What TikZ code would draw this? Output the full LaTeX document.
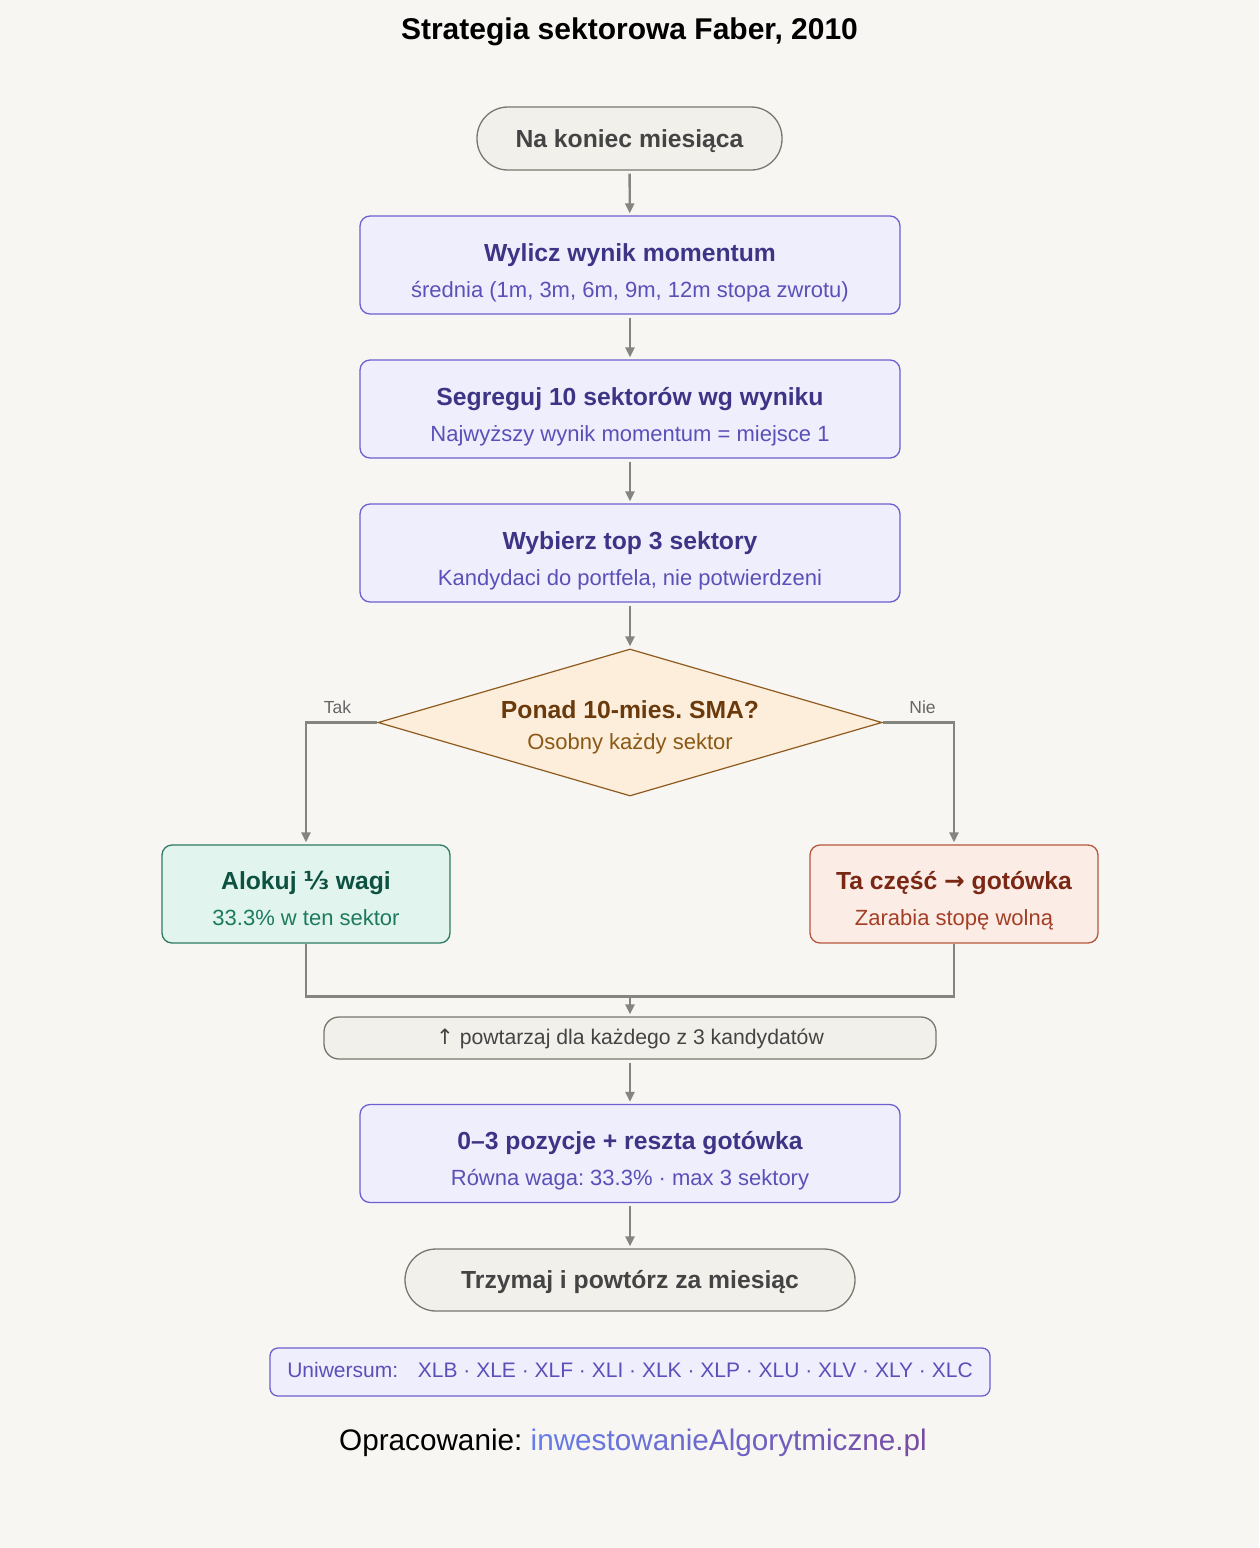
\documentclass[tikz,border=0pt]{standalone}
\usepackage{fontspec}
\setmainfont{Liberation Sans}
\newfontfamily\symfont{DejaVu Sans}
\usetikzlibrary{arrows.meta,shapes.geometric}
\frenchspacing
\definecolor{bg}{HTML}{F7F6F2}
\definecolor{lavfill}{HTML}{EFEEFC}
\definecolor{lavdraw}{HTML}{6C60D0}
\definecolor{lavtitle}{HTML}{3D3486}
\definecolor{lavsub}{HTML}{5B50B8}
\definecolor{neufill}{HTML}{F2F0EA}
\definecolor{neudraw}{HTML}{77776F}
\definecolor{neutext}{HTML}{444444}
\definecolor{decfill}{HTML}{FCEEDB}
\definecolor{decdraw}{HTML}{8F5A1E}
\definecolor{dectitle}{HTML}{6A3A0C}
\definecolor{decsub}{HTML}{8C5815}
\definecolor{grfill}{HTML}{E1F4EE}
\definecolor{grdraw}{HTML}{2F7B62}
\definecolor{grtitle}{HTML}{0D5140}
\definecolor{grsub}{HTML}{1E7A5E}
\definecolor{rdfill}{HTML}{FBECE6}
\definecolor{rddraw}{HTML}{B5573D}
\definecolor{rdtitle}{HTML}{7A2714}
\definecolor{rdsub}{HTML}{A43E26}
\definecolor{arrcol}{HTML}{858580}
\definecolor{lblcol}{HTML}{666666}
\definecolor{gradA}{HTML}{667EEA}
\definecolor{gradB}{HTML}{764BA2}
\newcommand{\gradtext}{%
  \foreach \ch [count=\ci from 0] in {i,n,w,e,s,t,o,w,a,n,i,e,A,l,g,o,r,y,t,m,i,c,z,n,e,.,p,l}{%
    \pgfmathtruncatemacro{\pc}{100-\ci*100/27}%
    \textcolor{gradA!\pc!gradB}{\ch}}}
\tikzset{
  lavbox/.style={draw=lavdraw, fill=lavfill, line width=1.3pt, rounded corners=10pt, minimum width=540, minimum height=98, inner sep=0},
  neubox/.style={draw=neudraw, fill=neufill, line width=1.3pt, inner sep=0},
  grbox/.style={draw=grdraw, fill=grfill, line width=1.3pt, rounded corners=10pt, minimum width=288, minimum height=98, inner sep=0},
  rdbox/.style={draw=rddraw, fill=rdfill, line width=1.3pt, rounded corners=10pt, minimum width=288, minimum height=98, inner sep=0},
  ttl/.style={anchor=base, inner sep=0, font=\fontsize{24.7}{29}\selectfont\bfseries},
  sub/.style={anchor=base, inner sep=0, font=\fontsize{22}{26}\selectfont},
  arr/.style={draw=arrcol, line width=2.4pt, -{Triangle[length=10pt,width=9pt]}, shorten <=3pt, shorten >=2pt},
  conn/.style={draw=arrcol, line width=2.4pt},
  lbl/.style={text=lblcol, font=\fontsize{17.5}{21}\selectfont, inner sep=3pt}
}
\begin{document}
\begin{tikzpicture}[x=1pt,y=-1pt]
\fill[bg] (0,0) rectangle (1259,1548);
\useasboundingbox (0,0) rectangle (1259,1548);

\node[inner sep=0, font=\fontsize{30}{36}\selectfont\bfseries] (title) at (629.5,32) {Strategia sektorowa Faber, 2010};

% start
\node[neubox, rounded corners=31pt, minimum width=305, minimum height=63, text=neutext, font=\fontsize{24.7}{29}\selectfont\bfseries] (start) at (629.5,138.5) {};
\node[ttl, text=neutext] (startt) at (629.5,147) {Na koniec miesiąca};

% box 1
\node[lavbox] (b1) at (630,265) {};
\node[ttl, text=lavtitle] (b1t) at (630,261) {Wylicz wynik momentum};
\node[sub, text=lavsub] (b1s) at (630,297) {średnia (1m, 3m, 6m, 9m, 12m stopa zwrotu)};

% box 2
\node[lavbox] (b2) at (630,409) {};
\node[ttl, text=lavtitle] (b2t) at (630,405) {Segreguj 10 sektorów wg wyniku};
\node[sub, text=lavsub] (b2s) at (630,441) {Najwyższy wynik momentum = miejsce 1};

% box 3
\node[lavbox] (b3) at (630,553) {};
\node[ttl, text=lavtitle] (b3t) at (630,549) {Wybierz top 3 sektory};
\node[sub, text=lavsub] (b3s) at (630,585) {Kandydaci do portfela, nie potwierdzeni};

% decision
\node[diamond, draw=decdraw, fill=decfill, line width=1.2pt, minimum width=504, minimum height=147, inner sep=0] (dec) at (630,722.5) {};
\node[ttl, text=dectitle] (dect) at (630,718) {Ponad 10-mies. SMA?};
\node[sub, text=decsub] (decs) at (630,749) {Osobny każdy sektor};

% green / red
\node[grbox] (gr) at (306,894) {};
\node[ttl, text=grtitle] (grt) at (306,889) {Alokuj {\symfont ⅓} wagi};
\node[sub, text=grsub] (grs) at (306,925) {33.3\% w ten sektor};

\node[rdbox] (rd) at (954,894) {};
\node[ttl, text=rdtitle] (rdt) at (954,889) {Ta część {\symfont →} gotówka};
\node[sub, text=rdsub] (rds) at (954,925) {Zarabia stopę wolną};

% repeat
\node[neubox, rounded corners=15pt, minimum width=612, minimum height=42, text=neutext, font=\fontsize{21.2}{25}\selectfont] (rep) at (630,1038) {};
\node[anchor=base, inner sep=0, text=neutext, font=\fontsize{21.2}{25}\selectfont] (rept) at (630,1044.5) {{\symfont ↑} powtarzaj dla każdego z 3 kandydatów};

% box 4
\node[lavbox] (b4) at (630,1153.5) {};
\node[ttl, text=lavtitle] (b4t) at (630,1149) {0–3 pozycje + reszta gotówka};
\node[sub, text=lavsub] (b4s) at (630,1185) {Równa waga: 33.3\% · max 3 sektory};

% end
\node[neubox, rounded corners=31pt, minimum width=450, minimum height=62, text=neutext, font=\fontsize{24.7}{29}\selectfont\bfseries] (end) at (630,1280) {};
\node[ttl, text=neutext] (endt) at (630,1288) {Trzymaj i powtórz za miesiąc};

% universe
\node[draw=lavdraw, fill=lavfill, line width=1.3pt, rounded corners=8pt, minimum width=720, minimum height=48, inner sep=0] (uni) at (630,1372) {};
\node[anchor=base, inner sep=0, text=lavsub, font=\fontsize{21}{25}\selectfont] (unit) at (630,1377.5) {Uniwersum:\hspace{14pt} XLB · XLE · XLF · XLI · XLK · XLP · XLU · XLV · XLY · XLC};

% footer
\node[anchor=base, inner sep=0, font=\fontsize{29.7}{35}\selectfont] (foot) at (633,1450) {Opracowanie: \gradtext};

% connectors
\draw[arr] (start) -- (b1);
\draw[arr] (b1) -- (b2);
\draw[arr] (b2) -- (b3);
\draw[arr] (b3) -- (dec);
\draw[arr, shorten <=0pt] (dec.west) -| node[lbl, pos=0.28, above, yshift=5pt] (tak) {Tak} (gr.north);
\draw[arr, shorten <=0pt] (dec.east) -| node[lbl, pos=0.28, above, yshift=5pt] (nie) {Nie} (rd.north);
\coordinate (merge) at (630,996);
\draw[conn] (gr.south) -- ++(0,53) -| (rd.south);
\draw[arr, shorten <=0pt] (merge) -- (rep);
\draw[arr] (rep) -- (b4);
\draw[arr] (b4) -- (end);
\end{tikzpicture}
\end{document}
